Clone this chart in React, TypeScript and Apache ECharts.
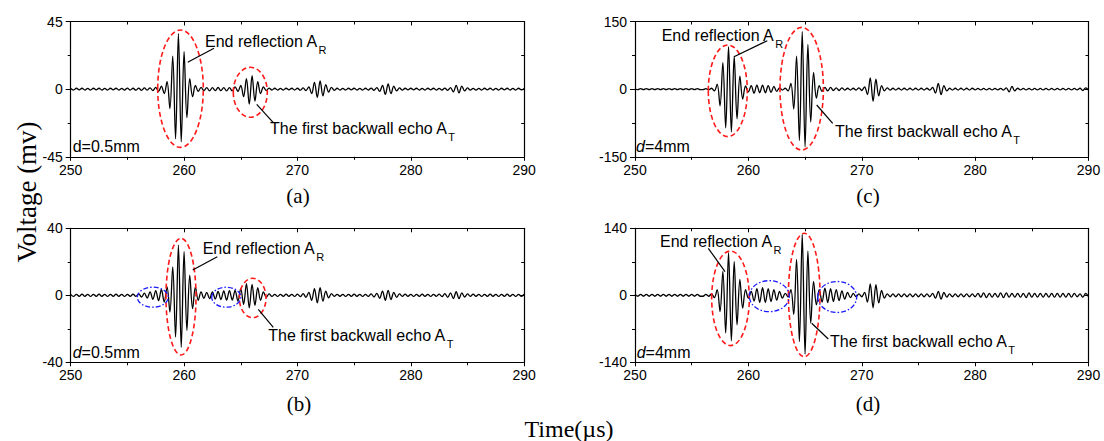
import React, { useEffect, useRef } from "react";
import * as echarts from "echarts";

// ---- sampling grid (µs) ----
const T_START = 250;
const T_STEP = 0.25;

// ---- x axis ----
const X_MIN = 250;
const X_MAX = 290;
const X_INTERVAL = 10;

// ---- y limits per panel ----
const yLimitA = 45;
const yLimitB = 40;
const yLimitC = 150;
const yLimitD = 140;

// ---- waveform samples (mV), one per 0.25 µs from 250 to 290 µs ----
const voltsA = [
  0.5, -0.6, 0.6, -0.5, 0.6, -0.6, 0.5, -0.6,
  0.6, -0.5, 0.6, -0.6, 0.5, -0.6, 0.6, -0.5,
  0.6, -0.6, 0.5, -0.6, 0.7, -0.6, 0.6, -0.7,
  0.7, -0.8, 0.8, -0.7, 0.9, -1.0, 1.2, -1.5,
  2.0, -3.0, 5, -13, 22, -33, 37, -35,
  25, -19, 7, -5, 2.5, -1.5, 1.2, -1.0,
  1.0, -1.1, 1.0, -1.0, 1.1, -1.0, 1.0, -1.1,
  1.0, -1.2, 1.5, -1.5, 2.5, -5, 7, -10,
  9, -8, 5, -3, 1.5, -1.0, 0.7, -0.6,
  0.6, -0.6, 0.5, -0.6, 0.6, -0.5, 0.6, -0.6,
  0.6, -0.7, 0.8, -1.0, 1.5, -3, 4.5, -5.5,
  5.5, -4.5, 3, -2, 1.2, -0.8, 0.6, -0.6,
  0.5, -0.6, 0.6, -0.5, 0.6, -0.6, 0.5, -0.6,
  0.6, -0.6, 0.7, -0.8, 1.0, -1.5, 2.5, -3.5,
  3.5, -3, 2, -1.2, 0.8, -0.6, 0.6, -0.5,
  0.6, -0.5, 0.6, -0.6, 0.5, -0.6, 0.6, -0.5,
  0.6, -0.6, 0.5, -0.6, 0.7, -0.8, 1.0, -1.8,
  2.5, -2.5, 2, -1.2, 0.8, -0.6, 0.5, -0.6,
  0.5, -0.6, 0.6, -0.5, 0.6, -0.6, 0.5, -0.6,
  0.6, -0.5, 0.6, -0.6, 0.5, -0.6, 0.6, -0.5,
  0.5,
];

const voltsB = [
  0.6, -0.7, 0.6, -0.6, 0.7, -0.6, 0.6, -0.7,
  0.6, -0.6, 0.7, -0.6, 0.6, -0.7, 0.6, -0.6,
  0.7, -0.6, 0.6, -0.7, 0.6, -0.6, 0.7, -0.6,
  0.8, -1.0, 1.3, -1.6, 2.0, -2.4, 2.8, -3.2,
  3.5, -4, 5, -10, 17, -25, 30, -31,
  26, -21, 12, -8, 5, -3, 2, -1.8,
  1.8, -2, 2, -2.2, 2.3, -2.5, 2.6, -2.8,
  2.8, -2.8, 3, -3.5, 4, -5.5, 7, -7.5,
  6.5, -6, 4.5, -3, 2, -1.2, 0.8, -0.7,
  0.6, -0.7, 0.6, -0.6, 0.7, -0.6, 0.6, -0.7,
  0.7, -0.8, 1, -1.2, 1.8, -3, 4, -4.5,
  4.5, -3.5, 2.5, -1.5, 1, -0.7, 0.6, -0.6,
  0.6, -0.7, 0.6, -0.6, 0.7, -0.6, 0.6, -0.7,
  0.6, -0.7, 0.8, -1, 1.2, -1.8, 2.5, -3,
  3, -2.5, 1.8, -1.2, 0.8, -0.6, 0.7, -0.6,
  0.6, -0.7, 0.6, -0.6, 0.7, -0.6, 0.6, -0.7,
  0.6, -0.6, 0.7, -0.8, 1, -1.2, 1.5, -2,
  2.2, -2, 1.5, -1, 0.8, -0.6, 0.7, -0.6,
  0.6, -0.7, 0.6, -0.6, 0.7, -0.6, 0.6, -0.7,
  0.6, -0.6, 0.7, -0.6, 0.6, -0.7, 0.6, -0.6,
  0.6,
];

const voltsC = [
  1, -1.2, 1, -1, 1.2, -1, 1, -1.2,
  1, -1, 1.2, -1, 1, -1.2, 1, -1,
  1.2, -1, 1, -1.2, 1, -1, 1.2, -1,
  -1, 1.2, -1.5, 2, -4, 11, -37, 59,
  -86, 94, -95, 73, -66, 29, -22, 7,
  -6, 8, -9, 9, -8, 9, -8, 8,
  -7, 6, -5, 3, -2, 2, -4, 13,
  -44, 73, -114, 128, -128, 99, -73, 37,
  -20, 8, -5, 4, -4, 4, -3, 3,
  -3, 3, -2, 2, -2, 2, -2, 3,
  -3, 5, -12, 25, -27, 22, -15, 8,
  -4, 3, -2, 2, -2, 2, -2, 2,
  -2, 2, -2, 2, -2, 2, -2, 2,
  -2, 4, -9, 13, -12, 8, -4, 2,
  -2, 2, -2, 2, -2, 2, -2, 2,
  -1.5, 1.5, -1.5, 1.5, -1.5, 1.5, -1.5, 1.5,
  -1.5, 1.5, -2, 3, -6, 6, -4, 2,
  -1.5, 1.5, -1.5, 1.5, -1.5, 1.5, -1.5, 1.5,
  -1.5, 1.5, -1.5, 1.5, -1.5, 1.5, -1.5, 1.5,
  -1.5, 1.5, -1.5, 1.5, -1.5, 2, -3, 3,
  -2,
];

const voltsD = [
  2, -2, 2, -2, 2, -2, 2, -2,
  2, -2, 2, -2, 2, -2, 2, -2,
  2, -2, 2, -2, 2, -2, 2, -2,
  -2, 2, -2, 3, -5, 12, -34, 50,
  -79, 89, -95, 71, -62, 33, -27, 12,
  -6, 8, -12, 14, -15, 16, -15, 14,
  -13, 12, -10, 8, -6, 4, -3, 12,
  -40, 75, -97, 127, -123, 92, -58, 29,
  -20, 12, -14, 15, -15, 14, -13, 12,
  -11, 9, -8, 6, -5, 4, -3, 3,
  -3, 6, -14, 24, -26, 22, -16, 10,
  -6, 3, -3, 3, -3, 3, -3, 3,
  -3, 3, -3, 3, -3, 3, -3, 3,
  -3, 4, -6, 8, -8, 6, -4, 3,
  -3, 3, -3, 3, -3, 3, -3, 3,
  -3, 4, -4, 5, -5, 4, -4, 4,
  -4, 5, -5, 5, -4, 4, -4, 4,
  -4, 4, -5, 5, -4, 4, -4, 4,
  -4, 4, -4, 4, -4, 4, -4, 4,
  -4, 4, -4, 4, -3, 3, -4, 4,
  -3,
];

// ---- texts ----
const panelLabels = ["(a)", "(b)", "(c)", "(d)"];
const thicknessValues = ["0.5mm", "0.5mm", "4mm", "4mm"];
const endReflectionText = "End reflection A";
const endReflectionSub = "R";
const backwallText = "The first backwall echo A";
const backwallSub = "T";
const yTitle = "Voltage (mv)";
const xTitle = "Time(\u00b5s)";

const SANS = '"Liberation Sans", Arial, sans-serif';
const SERIF = '"Liberation Serif", "Times New Roman", serif';

function textWidth(text: string, font: string): number {
  const c = document.createElement("canvas").getContext("2d");
  if (!c) return text.length * 8;
  c.font = font;
  return c.measureText(text).width;
}

type Panel = {
  data: number[];
  lim: number;
  grid: { left: number; top: number; width: number; height: number };
};

const panels: Panel[] = [
  { data: voltsA, lim: yLimitA, grid: { left: 70.7, top: 21.5, width: 453.5, height: 135.3 } },
  { data: voltsB, lim: yLimitB, grid: { left: 70.7, top: 228.3, width: 453.5, height: 134 } },
  { data: voltsC, lim: yLimitC, grid: { left: 635, top: 21.5, width: 453.5, height: 135.3 } },
  { data: voltsD, lim: yLimitD, grid: { left: 635, top: 228.3, width: 453.5, height: 134 } },
];

// annotation layout (pixels)
const redEllipses = [
  [180.5, 88.7, 22.8, 58.7],
  [250.3, 92.3, 17, 25],
  [181, 296.7, 15, 58.3],
  [252.7, 298, 13.3, 19.7],
  [727.8, 90.8, 19.5, 45.8],
  [801.7, 88.7, 21.7, 61.3],
  [730.5, 298.3, 18.8, 47.3],
  [804.2, 295, 15.8, 61.7],
];
const blueEllipses = [
  [152.8, 297.2, 15.5, 10],
  [226.2, 297.2, 14.5, 10],
  [769.3, 296.2, 20, 15.5],
  [837.2, 297, 19.5, 15.5],
];
const leaderLines = [
  [214, 48.3, 187.7, 62.3],
  [256.7, 104.3, 273.3, 122.7],
  [217.3, 256.7, 192.7, 270],
  [258.3, 309.3, 273.3, 327.3],
  [767.3, 40.7, 734, 56.7],
  [816.7, 105, 832.7, 123.3],
  [708.3, 248.3, 725, 271.7],
  [811.7, 323.3, 828.3, 339],
];
const endReflectionPos = [
  [205, 41.5],
  [202.7, 248.3],
  [661.7, 35],
  [660, 241],
];
const backwallPos = [
  [270, 128.3],
  [268.3, 335.7],
  [835, 131.7],
  [830, 341.7],
];
const thicknessPos = [
  [72.7, 146.7, false],
  [72.7, 352.3, true],
  [636, 146.7, true],
  [636.7, 352.7, true],
];
const panelLabelPos = [
  [298, 196],
  [299, 404],
  [868, 196],
  [868, 404],
];

function buildOption() {
  const grid: any[] = [];
  const xAxis: any[] = [];
  const yAxis: any[] = [];
  const series: any[] = [];

  const axisLine = { show: true, onZero: false, lineStyle: { color: "#000", width: 1.2 } };
  const tickStyle = { color: "#000", width: 1 };

  panels.forEach((p, i) => {
    grid.push({ ...p.grid, containLabel: false, show: false });
    const xBase = {
      type: "value",
      gridIndex: i,
      min: X_MIN,
      max: X_MAX,
      interval: X_INTERVAL,
      splitLine: { show: false },
      axisLine,
    };
    xAxis.push({
      ...xBase,
      position: "bottom",
      axisTick: { show: true, inside: false, length: 4, lineStyle: tickStyle },
      minorTick: { show: true, splitNumber: 2, length: 3, lineStyle: tickStyle },
      axisLabel: { show: true, color: "#000", fontSize: 14, fontFamily: SANS, margin: 6 },
    });
    xAxis.push({
      ...xBase,
      position: "top",
      axisTick: { show: true, inside: true, length: 4, lineStyle: tickStyle },
      minorTick: { show: true, splitNumber: 2, length: 3, lineStyle: tickStyle },
      axisLabel: { show: false },
    });
    const yBase = {
      type: "value",
      gridIndex: i,
      min: -p.lim,
      max: p.lim,
      interval: p.lim,
      splitLine: { show: false },
      axisLine,
    };
    yAxis.push({
      ...yBase,
      position: "left",
      axisTick: { show: true, inside: false, length: 5, lineStyle: tickStyle },
      minorTick: { show: true, splitNumber: 2, length: 3, lineStyle: tickStyle },
      axisLabel: { show: true, color: "#000", fontSize: 14, fontFamily: SANS, margin: 8 },
    });
    yAxis.push({
      ...yBase,
      position: "right",
      axisTick: { show: true, inside: true, length: 4, lineStyle: tickStyle },
      minorTick: { show: true, splitNumber: 2, length: 3, lineStyle: tickStyle },
      axisLabel: { show: false },
    });
    series.push({
      type: "line",
      xAxisIndex: i * 2,
      yAxisIndex: i * 2,
      data: p.data.map((v, k) => [T_START + k * T_STEP, v]),
      showSymbol: false,
      smooth: 0.35,
      lineStyle: { color: "#000", width: 1.3 },
      silent: true,
      z: 3,
    });
  });

  const graphic: any[] = [];
  const annFont = 16;
  const subFont = 11;
  const mainFont = `${annFont}px ${SANS}`;

  redEllipses.forEach(([cx, cy, rx, ry]) =>
    graphic.push({
      type: "ellipse",
      shape: { cx, cy, rx, ry },
      silent: true,
      z: 10,
      style: { fill: "none", stroke: "#ff1a1a", lineWidth: 1.6, lineDash: [5, 3] },
    })
  );
  blueEllipses.forEach(([cx, cy, rx, ry]) =>
    graphic.push({
      type: "ellipse",
      shape: { cx, cy, rx, ry },
      silent: true,
      z: 10,
      style: { fill: "none", stroke: "#1a1aff", lineWidth: 1.3, lineDash: [5, 2, 1.5, 2] },
    })
  );
  leaderLines.forEach(([x1, y1, x2, y2]) =>
    graphic.push({
      type: "line",
      shape: { x1, y1, x2, y2 },
      silent: true,
      z: 10,
      style: { stroke: "#000", lineWidth: 1.2 },
    })
  );

  const addSubLabel = (x: number, y: number, main: string, sub: string) => {
    const w = textWidth(main, mainFont);
    graphic.push({
      type: "text",
      x,
      y,
      z: 11,
      silent: true,
      style: {
        text: main,
        fontSize: annFont,
        fontFamily: SANS,
        fill: "#000",
        textAlign: "left",
        textVerticalAlign: "middle",
      },
    });
    graphic.push({
      type: "text",
      x: x + w + 0.5,
      y: y + 8.5,
      z: 11,
      silent: true,
      style: {
        text: sub,
        fontSize: subFont,
        fontFamily: SANS,
        fill: "#000",
        textAlign: "left",
        textVerticalAlign: "middle",
      },
    });
  };
  endReflectionPos.forEach(([x, y]) => addSubLabel(x, y, endReflectionText, endReflectionSub));
  backwallPos.forEach(([x, y]) => addSubLabel(x, y, backwallText, backwallSub));

  thicknessPos.forEach(([x, y, ital], i) => {
    const italic = ital as boolean;
    const dFont = `${italic ? "italic " : ""}${annFont}px ${SANS}`;
    const dw = textWidth("d", dFont);
    graphic.push({
      type: "text",
      x: x as number,
      y: y as number,
      z: 11,
      silent: true,
      style: {
        text: "d",
        fontSize: annFont,
        fontStyle: italic ? "italic" : "normal",
        fontFamily: SANS,
        fill: "#000",
        textAlign: "left",
        textVerticalAlign: "middle",
      },
    });
    graphic.push({
      type: "text",
      x: (x as number) + dw,
      y: y as number,
      z: 11,
      silent: true,
      style: {
        text: "=" + thicknessValues[i],
        fontSize: annFont,
        fontFamily: SANS,
        fill: "#000",
        textAlign: "left",
        textVerticalAlign: "middle",
      },
    });
  });

  panelLabelPos.forEach(([x, y], i) =>
    graphic.push({
      type: "text",
      x,
      y,
      silent: true,
      style: {
        text: panelLabels[i],
        fontSize: 21,
        fontFamily: SERIF,
        fill: "#000",
        textAlign: "center",
        textVerticalAlign: "middle",
      },
    })
  );

  graphic.push({
    type: "text",
    x: 27,
    y: 192,
    rotation: Math.PI / 2,
    silent: true,
    style: {
      text: yTitle,
      fontSize: 27,
      fontFamily: SERIF,
      fill: "#000",
      textAlign: "center",
      textVerticalAlign: "middle",
    },
  });
  graphic.push({
    type: "text",
    x: 569,
    y: 429,
    silent: true,
    style: {
      text: xTitle,
      fontSize: 24,
      fontFamily: SERIF,
      fill: "#000",
      textAlign: "center",
      textVerticalAlign: "middle",
    },
  });

  return {
    animation: false,
    backgroundColor: "#fff",
    grid,
    xAxis,
    yAxis,
    series,
    graphic,
  };
}

export default function App() {
  const ref = useRef<HTMLDivElement>(null);
  useEffect(() => {
    if (!ref.current) return;
    const chart = echarts.init(ref.current, null, { renderer: "svg" });
    chart.setOption(buildOption() as any);
    return () => chart.dispose();
  }, []);
  return (
    <div
      ref={ref}
      style={{ position: "absolute", left: 0, top: 0, width: 1104, height: 441 }}
    />
  );
}
